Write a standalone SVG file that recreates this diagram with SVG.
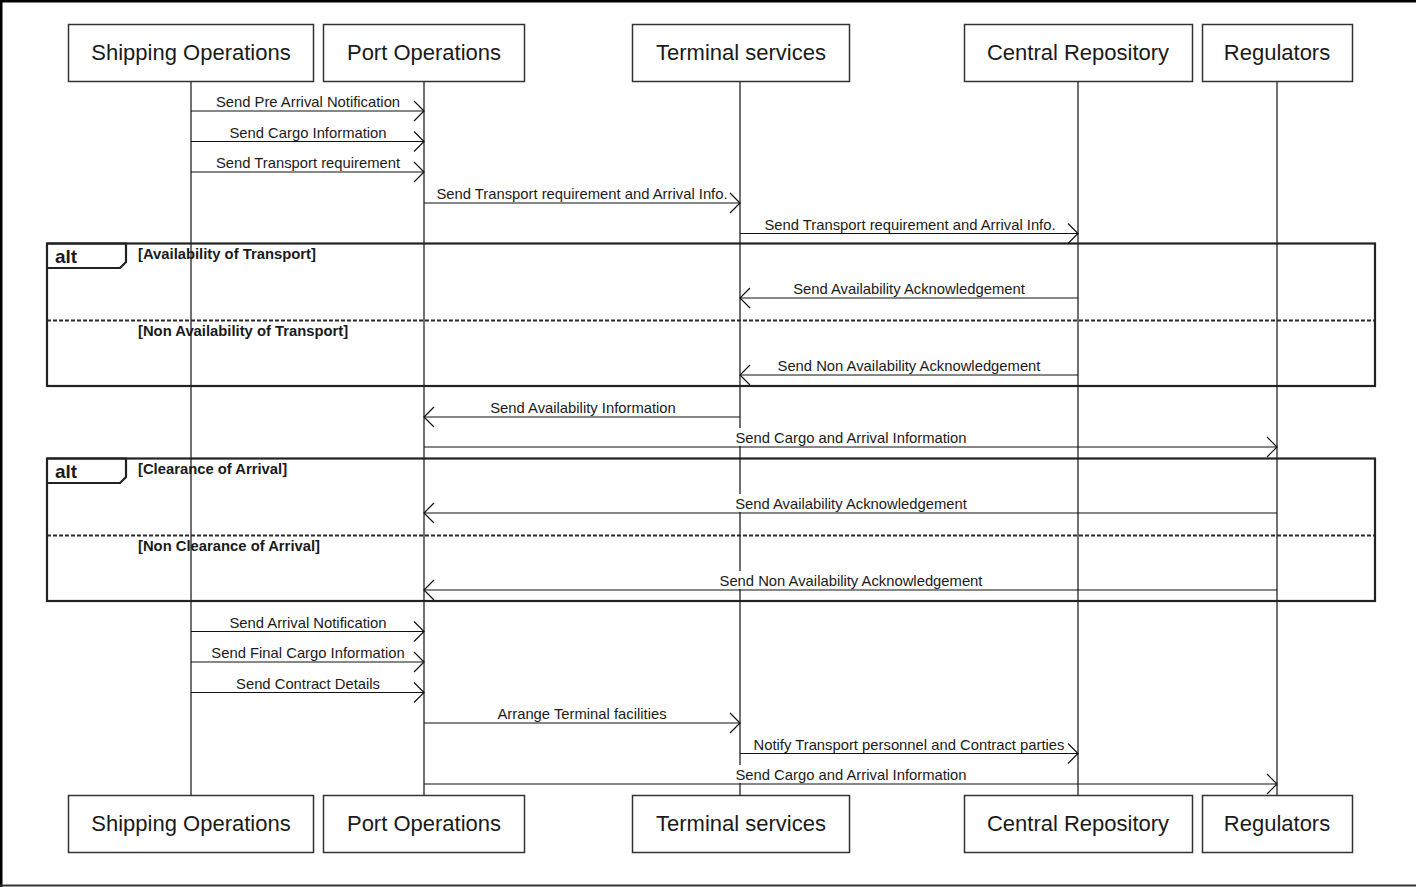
<svg xmlns="http://www.w3.org/2000/svg" width="1416" height="887" viewBox="0 0 1416 887">
  <defs>
    <style>
      .box { fill: #ffffff; stroke: #333333; stroke-width: 1.5; }
      .pname { font-family: "Liberation Sans", Arial, sans-serif; font-size: 22px; fill: #1a1a1a; text-anchor: middle; }
      .life { stroke: #111111; stroke-width: 1.2; fill: none; }
      .msg { stroke: #111111; stroke-width: 1.2; fill: none; }
      .lbl { font-family: "Liberation Sans", Arial, sans-serif; font-size: 14.8px; fill: #1a1a1a; text-anchor: middle; }
      .lblbg { fill: #ffffff; }
      .frame { fill: none; stroke: #222222; stroke-width: 2.2; }
      .sep { fill: none; stroke: #2a2a2a; stroke-width: 2.2; stroke-dasharray: 4 2; }
      .kw { font-family: "Liberation Sans", Arial, sans-serif; font-size: 19px; font-weight: bold; fill: #1a1a1a; }
      .guard { font-family: "Liberation Sans", Arial, sans-serif; font-size: 14.8px; font-weight: bold; fill: #1a1a1a; }
    </style>
    <marker id="open" viewBox="0 0 12 22" refX="11" refY="11" markerWidth="12" markerHeight="22" markerUnits="userSpaceOnUse" orient="auto">
      <path d="M1,1 L11,11 L1,21" fill="none" stroke="#111111" stroke-width="1.2"/>
    </marker>
  </defs>

  <rect x="0" y="0" width="1416" height="887" fill="#ffffff"/>
  <!-- page border -->
  <path d="M1.2,887 V1.2 H1416" fill="none" stroke="#000000" stroke-width="2.6"/>
  <line x1="0" y1="885.5" x2="1416" y2="885.5" stroke="#333333" stroke-width="2"/>

  <!-- lifelines -->
  <g id="lifelines">
    <line class="life" x1="191" y1="81" x2="191" y2="795"/>
    <line class="life" x1="424" y1="81" x2="424" y2="795"/>
    <line class="life" x1="740" y1="81" x2="740" y2="795"/>
    <line class="life" x1="1078" y1="81" x2="1078" y2="795"/>
    <line class="life" x1="1277" y1="81" x2="1277" y2="795"/>
  </g>

  <!-- combined fragments -->
  <g id="alt-transport">
    <rect class="frame" x="47" y="243.5" width="1328" height="142.5"/>
    <path class="frame" d="M47,243.5 H126 V262 L120,268 H47"/>
    <line class="sep" x1="47" y1="320.5" x2="1375" y2="320.5"/>
    <text class="kw" x="55" y="263">alt</text>
    <text class="guard" x="138" y="259">[Availability of Transport]</text>
    <text class="guard" x="138" y="336">[Non Availability of Transport]</text>
  </g>
  <g id="alt-clearance">
    <rect class="frame" x="47" y="458.5" width="1328" height="142.5"/>
    <path class="frame" d="M47,458.5 H126 V477 L120,483 H47"/>
    <line class="sep" x1="47" y1="535.5" x2="1375" y2="535.5"/>
    <text class="kw" x="55" y="478">alt</text>
    <text class="guard" x="138" y="474">[Clearance of Arrival]</text>
    <text class="guard" x="138" y="551">[Non Clearance of Arrival]</text>
  </g>

  <!-- messages -->
  <g id="connectors">
    <line class="msg" x1="191" y1="111" x2="424" y2="111" marker-end="url(#open)"/>
    <rect class="lblbg" x="214" y="92" width="189" height="18"/>
    <text class="lbl" x="308" y="107">Send Pre Arrival Notification</text>

    <line class="msg" x1="191" y1="141.5" x2="424" y2="141.5" marker-end="url(#open)"/>
    <rect class="lblbg" x="228" y="123" width="160" height="18"/>
    <text class="lbl" x="308" y="138">Send Cargo Information</text>

    <line class="msg" x1="191" y1="172" x2="424" y2="172" marker-end="url(#open)"/>
    <rect class="lblbg" x="216" y="153" width="185" height="18"/>
    <text class="lbl" x="308" y="168">Send Transport requirement</text>

    <line class="msg" x1="424" y1="203" x2="740" y2="203" marker-end="url(#open)"/>
    <rect class="lblbg" x="436" y="184" width="292" height="18"/>
    <text class="lbl" x="582" y="199">Send Transport requirement and Arrival Info.</text>

    <line class="msg" x1="740" y1="233.5" x2="1078" y2="233.5" marker-end="url(#open)"/>
    <rect class="lblbg" x="764" y="215" width="292" height="18"/>
    <text class="lbl" x="910" y="230">Send Transport requirement and Arrival Info.</text>

    <line class="msg" x1="1078" y1="298" x2="740" y2="298" marker-end="url(#open)"/>
    <rect class="lblbg" x="790" y="279" width="238" height="18"/>
    <text class="lbl" x="909" y="294">Send Availability Acknowledgement</text>

    <line class="msg" x1="1078" y1="375" x2="740" y2="375" marker-end="url(#open)"/>
    <rect class="lblbg" x="775" y="356" width="269" height="18"/>
    <text class="lbl" x="909" y="371">Send Non Availability Acknowledgement</text>

    <line class="msg" x1="740" y1="417" x2="424" y2="417" marker-end="url(#open)"/>
    <rect class="lblbg" x="487" y="398" width="191" height="18"/>
    <text class="lbl" x="583" y="413">Send Availability Information</text>

    <line class="msg" x1="424" y1="447" x2="1277" y2="447" marker-end="url(#open)"/>
    <rect class="lblbg" x="734" y="428" width="234" height="18"/>
    <text class="lbl" x="851" y="443">Send Cargo and Arrival Information</text>

    <line class="msg" x1="1277" y1="513" x2="424" y2="513" marker-end="url(#open)"/>
    <rect class="lblbg" x="732" y="494" width="238" height="18"/>
    <text class="lbl" x="851" y="509">Send Availability Acknowledgement</text>

    <line class="msg" x1="1277" y1="590" x2="424" y2="590" marker-end="url(#open)"/>
    <rect class="lblbg" x="716" y="571" width="270" height="18"/>
    <text class="lbl" x="851" y="586">Send Non Availability Acknowledgement</text>

    <line class="msg" x1="191" y1="631.5" x2="424" y2="631.5" marker-end="url(#open)"/>
    <rect class="lblbg" x="227" y="613" width="163" height="18"/>
    <text class="lbl" x="308" y="628">Send Arrival Notification</text>

    <line class="msg" x1="191" y1="662" x2="424" y2="662" marker-end="url(#open)"/>
    <rect class="lblbg" x="210" y="643" width="196" height="18"/>
    <text class="lbl" x="308" y="658">Send Final Cargo Information</text>

    <line class="msg" x1="191" y1="692.5" x2="424" y2="692.5" marker-end="url(#open)"/>
    <rect class="lblbg" x="234" y="674" width="149" height="18"/>
    <text class="lbl" x="308" y="689">Send Contract Details</text>

    <line class="msg" x1="424" y1="723" x2="740" y2="723" marker-end="url(#open)"/>
    <rect class="lblbg" x="495" y="704" width="174" height="18"/>
    <text class="lbl" x="582" y="719">Arrange Terminal facilities</text>

    <line class="msg" x1="740" y1="753.5" x2="1078" y2="753.5" marker-end="url(#open)"/>
    <rect class="lblbg" x="752" y="735" width="314" height="18"/>
    <text class="lbl" x="909" y="750">Notify Transport personnel and Contract parties</text>

    <line class="msg" x1="424" y1="784" x2="1277" y2="784" marker-end="url(#open)"/>
    <rect class="lblbg" x="734" y="765" width="234" height="18"/>
    <text class="lbl" x="851" y="780">Send Cargo and Arrival Information</text>
  </g>

  <!-- participants -->
  <g id="shipping-operations">
    <rect class="box" x="68.5" y="24.5" width="245" height="57"/>
    <text class="pname" x="191" y="60">Shipping Operations</text>
    <rect class="box" x="68.5" y="795.5" width="245" height="57"/>
    <text class="pname" x="191" y="831">Shipping Operations</text>
  </g>
  <g id="port-operations">
    <rect class="box" x="323.5" y="24.5" width="201" height="57"/>
    <text class="pname" x="424" y="60">Port Operations</text>
    <rect class="box" x="323.5" y="795.5" width="201" height="57"/>
    <text class="pname" x="424" y="831">Port Operations</text>
  </g>
  <g id="terminal-services">
    <rect class="box" x="632.5" y="24.5" width="217" height="57"/>
    <text class="pname" x="741" y="60">Terminal services</text>
    <rect class="box" x="632.5" y="795.5" width="217" height="57"/>
    <text class="pname" x="741" y="831">Terminal services</text>
  </g>
  <g id="central-repository">
    <rect class="box" x="964.5" y="24.5" width="228" height="57"/>
    <text class="pname" x="1078" y="60">Central Repository</text>
    <rect class="box" x="964.5" y="795.5" width="228" height="57"/>
    <text class="pname" x="1078" y="831">Central Repository</text>
  </g>
  <g id="regulators">
    <rect class="box" x="1202.5" y="24.5" width="150" height="57"/>
    <text class="pname" x="1277" y="60">Regulators</text>
    <rect class="box" x="1202.5" y="795.5" width="150" height="57"/>
    <text class="pname" x="1277" y="831">Regulators</text>
  </g>
</svg>
